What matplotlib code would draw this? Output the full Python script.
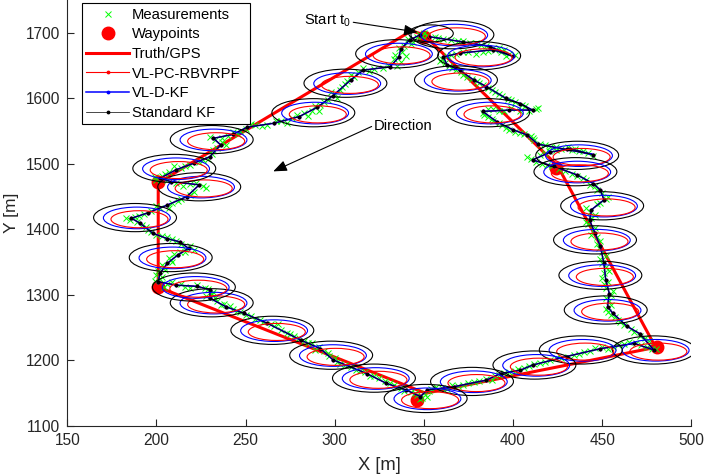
import matplotlib.pyplot as plt
import numpy as np
from matplotlib.patches import Ellipse

plt.rcParams['font.family'] = ['Liberation Sans', 'DejaVu Sans']
plt.rcParams['mathtext.fontset'] = 'custom'
plt.rcParams['mathtext.rm'] = 'Liberation Sans'

# truth / GPS route
truth_x = [350, 425, 480, 351, 201, 201, 343, 350]
truth_y = [1697, 1497, 1220, 1150, 1312, 1471, 1703, 1697]

# waypoints
wp_x = [350, 424, 481, 346, 201, 201]
wp_y = [1694, 1494, 1220, 1140, 1312, 1472]

# filter estimates (all three filters track almost identically)
est_pts = [
    (348, 1697), (342, 1689), (337, 1675), (336, 1663), (331, 1648), (316, 1643),
    (309, 1628), (299, 1604), (290, 1586), (280, 1572), (266, 1562), (251, 1556),
    (243, 1545), (232, 1539), (236, 1529), (230, 1511), (221, 1501), (211, 1491),
    (202, 1478), (208, 1473), (224, 1468), (217, 1450), (206, 1437), (195, 1425),
    (186, 1417), (191, 1409), (198, 1394), (206, 1386), (213, 1381), (218, 1371),
    (212, 1361), (206, 1348), (202, 1333), (201, 1320), (211, 1315), (223, 1313),
    (230, 1308), (230, 1295), (239, 1282), (249, 1272), (262, 1257), (281, 1231),
    (292, 1218), (299, 1201), (318, 1180), (329, 1165), (340, 1155), (348, 1145),
    (352, 1155), (367, 1160), (385, 1170), (393, 1180), (404, 1185), (411, 1193),
    (430, 1206), (449, 1218), (468, 1226), (479, 1216), (471, 1241), (464, 1252),
    (456, 1272), (453, 1282), (454, 1302), (452, 1323), (451, 1348), (449, 1374),
    (446, 1394), (443, 1414), (444, 1430), (451, 1445), (449, 1460), (445, 1470),
    (436, 1483), (423, 1496), (411, 1506), (421, 1518), (432, 1523), (445, 1514),
    (430, 1522), (414, 1530), (408, 1544), (400, 1552), (391, 1564), (383, 1580),
    (398, 1582), (411, 1582), (404, 1592), (396, 1600), (385, 1618), (378, 1628),
    (370, 1643), (363, 1651), (361, 1663), (370, 1669), (389, 1674), (400, 1664),
    (387, 1679), (372, 1686), (353, 1694),
]

# measurements
meas_pts = [
    (350, 1700), (346, 1693), (344, 1686), (339, 1680), (338, 1670), (334, 1666), (337, 1656),
    (330, 1651), (322, 1645), (313, 1640), (311, 1632), (306, 1622), (303, 1613), (300, 1606),
    (296, 1598), (292, 1590), (287, 1581), (283, 1577), (276, 1570), (270, 1566), (262, 1560),
    (255, 1559), (250, 1553), (246, 1546), (240, 1543), (233, 1537), (237, 1533), (234, 1524),
    (231, 1515), (226, 1506), (219, 1499), (214, 1494), (207, 1487), (203, 1482), (200, 1476),
    (211, 1471), (219, 1469), (226, 1466), (221, 1457), (214, 1447), (209, 1441), (202, 1432),
    (197, 1428), (190, 1421), (185, 1415), (189, 1411), (194, 1403), (197, 1396), (203, 1390),
    (209, 1385), (214, 1378), (219, 1374), (216, 1366), (210, 1362), (208, 1354), (204, 1343),
    (201, 1337), (203, 1328), (199, 1322), (206, 1317), (214, 1316), (219, 1311), (227, 1311),
    (232, 1305), (228, 1298), (234, 1290), (238, 1286), (243, 1279), (247, 1274), (253, 1268),
    (258, 1262), (264, 1256), (270, 1247), (275, 1240), (280, 1234), (285, 1227), (291, 1221),
    (294, 1214), (297, 1207), (301, 1198), (306, 1193), (312, 1186), (317, 1182), (322, 1176),
    (328, 1168), (333, 1163), (337, 1158), (343, 1152), (346, 1147), (349, 1143), (350, 1150),
    (354, 1156), (360, 1158), (366, 1162), (372, 1163), (378, 1167), (385, 1172), (390, 1177),
    (395, 1181), (401, 1184), (406, 1189), (412, 1194), (418, 1198), (424, 1203), (431, 1206),
    (437, 1210), (443, 1215), (450, 1220), (456, 1221), (462, 1225), (469, 1226), (475, 1220),
    (478, 1217), (474, 1235), (468, 1244), (462, 1254), (459, 1262), (455, 1270), (452, 1279),
    (454, 1290), (455, 1300), (452, 1310), (453, 1320), (451, 1333), (452, 1342), (449, 1355),
    (450, 1366), (447, 1378), (447, 1388), (445, 1398), (442, 1408), (444, 1418), (443, 1427),
    (447, 1438), (452, 1446), (450, 1455), (446, 1466), (441, 1475), (436, 1481), (429, 1489),
    (422, 1497), (416, 1500), (410, 1507), (415, 1513), (420, 1519), (427, 1522), (435, 1522),
    (442, 1516), (437, 1519), (424, 1525), (418, 1528), (412, 1536), (410, 1542), (404, 1547),
    (398, 1551), (394, 1559), (389, 1566), (386, 1572), (383, 1578), (389, 1583), (395, 1580),
    (404, 1581), (413, 1583), (407, 1588), (401, 1594), (397, 1599), (392, 1606), (388, 1613),
    (383, 1620), (380, 1626), (374, 1632), (371, 1640), (366, 1646), (362, 1654), (360, 1660),
    (365, 1666), (372, 1670), (379, 1668), (386, 1672), (393, 1671), (398, 1667), (395, 1673),
    (389, 1677), (382, 1682), (376, 1684), (369, 1687), (361, 1690), (356, 1693),
    (352, 1696), (347, 1698), (341, 1690), (343, 1683), (336, 1676), (340, 1665), (333, 1660),
    (335, 1650), (327, 1647), (319, 1641), (316, 1646), (309, 1635), (307, 1626), (304, 1618),
    (298, 1609), (301, 1601), (294, 1594), (289, 1588), (291, 1580), (285, 1573), (279, 1575),
    (273, 1563), (267, 1566), (259, 1557), (253, 1561), (247, 1550), (243, 1548), (237, 1540),
    (230, 1541), (239, 1528), (232, 1521), (229, 1508), (224, 1503), (216, 1497), (210, 1496),
    (205, 1484), (199, 1480), (206, 1475), (215, 1466), (222, 1471), (228, 1463), (219, 1453),
    (212, 1444), (207, 1433), (200, 1436), (193, 1423), (188, 1419), (183, 1418), (192, 1406),
    (195, 1399), (200, 1392), (206, 1389), (211, 1383), (216, 1370), (221, 1368), (213, 1365),
    (207, 1357), (209, 1350), (203, 1346), (205, 1338), (200, 1330), (202, 1324), (204, 1312),
    (209, 1319), (216, 1312), (223, 1315), (229, 1309), (231, 1301), (233, 1296), (236, 1285),
    (241, 1283), (245, 1276), (250, 1270), (255, 1264), (260, 1259), (266, 1253), (268, 1255),
    (273, 1242), (277, 1238), (283, 1230), (287, 1226), (289, 1216), (296, 1211), (300, 1203),
    (303, 1195), (309, 1190), (314, 1184), (320, 1177), (325, 1174), (331, 1166), (335, 1160),
    (339, 1153), (345, 1150), (348, 1141), (352, 1145), (353, 1153), (357, 1159), (363, 1157),
    (369, 1161), (375, 1166), (381, 1168), (388, 1170), (392, 1178), (398, 1183), (403, 1187),
    (409, 1191), (415, 1196), (421, 1201), (427, 1204), (434, 1208), (440, 1213), (446, 1219),
    (453, 1218), (459, 1224), (465, 1228), (472, 1223), (480, 1218), (476, 1229), (471, 1238),
    (466, 1248), (460, 1258), (457, 1266), (453, 1274), (455, 1284), (452, 1295), (456, 1306),
    (451, 1316), (450, 1326), (454, 1337), (450, 1348), (452, 1360), (448, 1372), (449, 1382),
    (444, 1392), (446, 1402), (441, 1412), (446, 1422), (441, 1433), (449, 1441), (453, 1450),
    (447, 1460), (443, 1468), (439, 1478), (433, 1484), (426, 1492), (419, 1499), (413, 1503),
    (408, 1510), (418, 1516), (424, 1521), (431, 1525), (439, 1520), (445, 1512), (433, 1521),
    (421, 1526), (415, 1531), (411, 1539), (406, 1545), (401, 1549), (396, 1555), (392, 1562),
    (388, 1569), (384, 1575), (386, 1583), (392, 1581), (399, 1585), (409, 1580), (414, 1585),
    (405, 1590), (399, 1597), (394, 1603), (390, 1610), (386, 1616), (381, 1624), (377, 1629),
    (372, 1636), (368, 1643), (364, 1650), (359, 1657), (363, 1664), (368, 1668), (375, 1671),
    (383, 1670), (390, 1673), (396, 1664), (401, 1666), (392, 1676), (385, 1680), (379, 1684),
    (372, 1688), (365, 1689), (358, 1692), (349, 1695),
]

# covariance ellipse centres (Standard KF)
ell_x = [366, 335, 381, 306, 368, 288, 386, 436, 435, 450, 446, 449, 452, 479,
         438, 412, 377, 351, 322, 298, 265, 231, 221, 208, 188, 224, 210, 231]
ell_y = [1697, 1668, 1665, 1623, 1628, 1578, 1578, 1513, 1488, 1436, 1384, 1330, 1277, 1216,
         1216, 1193, 1168, 1142, 1173, 1208, 1246, 1288, 1312, 1357, 1418, 1465, 1493, 1537]
start_ell = (354, 1699)

est = np.array(est_pts)
meas = np.array(meas_pts)

fig = plt.figure(figsize=(7.05, 4.74), dpi=100)
ax = fig.add_axes([67.3 / 705, 48 / 474, 624 / 705, 426 / 474])

ax.plot(meas[:, 0], meas[:, 1], 'x', color=(0, 1, 0), ms=4, mew=0.7, label='Measurements', zorder=3)
ax.plot(wp_x, wp_y, 'o', color='red', ms=9, label='Waypoints', zorder=2)
ax.plot(truth_x, truth_y, '-', color='red', lw=2.2, label='Truth/GPS', zorder=2)
ax.plot(est[:, 0], est[:, 1], '.-', color='red', lw=0.8, ms=3.5, label='VL-PC-RBVRPF', zorder=4)
ax.plot(est[:, 0], est[:, 1], '.-', color='blue', lw=1.1, ms=3.5, label='VL-D-KF', zorder=4)
ax.plot(est[:, 0], est[:, 1], '.-', color='black', lw=0.5, ms=3.5, label='Standard KF', zorder=4)

# 3 ellipses per epoch: black (KF), blue (VL-D-KF), red (VL-PC-RBVRPF)
for cx, cy in zip(ell_x, ell_y):
    ax.add_patch(Ellipse((cx, cy), 46.5, 43, fill=False, ec='black', lw=0.8, zorder=5))
    ax.add_patch(Ellipse((cx + 1, cy - 0.5), 37.5, 33, fill=False, ec='blue', lw=0.8, zorder=5))
    ax.add_patch(Ellipse((cx + 2.5, cy - 2.5), 32, 26, fill=False, ec='red', lw=0.8, zorder=5))
ax.add_patch(Ellipse(start_ell, 25, 26, fill=False, ec='black', lw=0.8, zorder=5))

arrow = dict(arrowstyle='-|>,head_length=0.55,head_width=0.22', color='black', lw=0.8,
             mutation_scale=15, shrinkA=0, shrinkB=0)
ax.annotate('', xy=(346.5, 1701), xytext=(310.4, 1716), arrowprops=arrow, zorder=6)
ax.text(282.5, 1719, r'Start t$_\mathregular{0}$', fontsize=10.6, va='center', ha='left')
ax.annotate('', xy=(265.5, 1488.5), xytext=(320.7, 1557), arrowprops=arrow, zorder=6)
ax.text(321.8, 1557.5, 'Direction', fontsize=10.6, va='center', ha='left')

ax.set_xlim(150, 500)
ax.set_ylim(1100, 1750)
ax.set_xticks(np.arange(150, 501, 50))
ax.set_yticks(np.arange(1100, 1701, 100))
ax.set_xlabel('X [m]', fontsize=13.2, color='#262626')
ax.set_ylabel('Y [m]', fontsize=12.5, color='#262626', va='center')
ax.xaxis.set_label_coords(0.5, -0.072)
ax.yaxis.set_label_coords(-0.09, 0.5)
ax.tick_params(direction='in', length=5, width=0.8, colors='#262626', labelsize=11.2, pad=5)
for s in ['top', 'right']:
    ax.spines[s].set_visible(False)
for s in ['left', 'bottom']:
    ax.spines[s].set_color('#262626')
    ax.spines[s].set_linewidth(0.8)

leg = ax.legend(loc='upper left', bbox_to_anchor=(0.0236, 0.710, 0.269, 0.282), mode='expand',
                fontsize=10.6, frameon=True, fancybox=False, framealpha=1, edgecolor='black',
                borderpad=0.3, handlelength=2.9, handletextpad=0.2, labelspacing=0.38,
                borderaxespad=0)
leg.get_frame().set_linewidth(0.8)
leg.set_zorder(10)

fig.savefig('out.png', dpi=100)
